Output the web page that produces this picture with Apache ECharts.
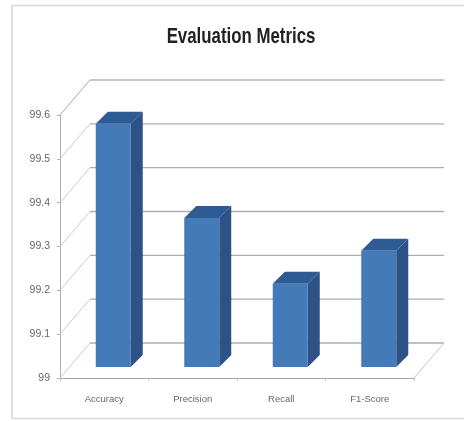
<!DOCTYPE html>
<html>
<head>
<meta charset="utf-8">
<style>html,body{margin:0;padding:0;background:#fff}#chart{width:464px;height:421px}</style>
<script src="https://cdn.jsdelivr.net/npm/echarts@6/dist/echarts.min.js"></script>
</head>
<body>
<div id="chart"></div>
<script>
const categories = ['Accuracy', 'Precision', 'Recall', 'F1-Score'];
const metricValues = [99.555, 99.34, 99.19, 99.265];
const wallTicks = [99, 99.1, 99.2, 99.3, 99.4, 99.5, 99.6];
const chartTitle = 'Evaluation Metrics';

// Depth of the pseudo-3D walls and of each column, in pixels
const WALL_DX = 30, WALL_DY = -35;
const BAR_SHIFT_X = 9, BAR_SHIFT_Y = -11, BAR_HALF = 17.5, BAR_DX = 12, BAR_DY = -12;

function renderWall(params, api) {
  const v = api.value(1);
  const y = api.coord([0, v])[1];
  const cs = params.coordSys;
  const bx = cs.x + WALL_DX, by = y + WALL_DY;
  const isTop = v === wallTicks[wallTicks.length - 1];
  const isFloor = v === wallTicks[0];
  const children = [
    { type: 'line', shape: { x1: cs.x, y1: y, x2: bx, y2: by },
      style: { stroke: isTop ? '#a8a8a8' : '#cfc8c2', lineWidth: 1 } },
    { type: 'line', shape: { x1: bx, y1: by, x2: bx + cs.width, y2: by },
      style: { stroke: isTop ? '#8e8e8e' : '#adadad', lineWidth: isTop ? 1 : 1.4 } }
  ];
  if (isFloor) {
    children.push({ type: 'line',
      shape: { x1: cs.x + cs.width, y1: y, x2: bx + cs.width, y2: by },
      style: { stroke: '#c4c4c4', lineWidth: 1 } });
  }
  return { type: 'group', children };
}

function renderColumn(params, api) {
  const idx = api.value(0);
  const base = api.coord([idx, wallTicks[0]]);
  const top = api.coord([idx, api.value(1)]);
  const x0 = base[0] + BAR_SHIFT_X - BAR_HALF;
  const x1 = base[0] + BAR_SHIFT_X + BAR_HALF;
  const yb = base[1] + BAR_SHIFT_Y;
  const yt = top[1] + BAR_SHIFT_Y;
  return {
    type: 'group',
    children: [
      { type: 'polygon',
        shape: { points: [[x1, yt], [x1 + BAR_DX, yt + BAR_DY], [x1 + BAR_DX, yb + BAR_DY], [x1, yb]] },
        style: { fill: '#2c5286' } },
      { type: 'polygon',
        shape: { points: [[x0, yt], [x0 + BAR_DX, yt + BAR_DY], [x1 + BAR_DX, yt + BAR_DY], [x1, yt]] },
        style: { fill: '#2f5b95' } },
      { type: 'rect',
        shape: { x: x0, y: yt, width: x1 - x0, height: yb - yt },
        style: { fill: '#457ab9' } }
    ]
  };
}

const chart = echarts.init(document.getElementById('chart'), null, { renderer: 'canvas' });
const labelFont = '"Liberation Sans", sans-serif';
chart.setOption({
  animation: false,
  backgroundColor: '#ffffff',
  graphic: [
    {
      type: 'rect', silent: true, z: -1,
      shape: { x: 12, y: 5.5, width: 480, height: 413 },
      style: { fill: 'none', stroke: '#d8d8d8', lineWidth: 1.5 }
    },
    {
      type: 'text', silent: true,
      x: 241, y: 37, scaleX: 0.765,
      style: {
        text: chartTitle, align: 'center', verticalAlign: 'middle',
        font: 'bold 22px "Liberation Sans", sans-serif', fill: '#222222'
      }
    }
  ],
  grid: { left: 60, width: 354, top: 115, height: 263 },
  xAxis: {
    type: 'category',
    data: categories,
    axisLine: { lineStyle: { color: '#a6a6a6' } },
    axisTick: { show: true, length: 3, lineStyle: { color: '#c8c8c8' } },
    axisLabel: { margin: 16, fontFamily: labelFont, fontSize: 9.5, color: '#666666' }
  },
  yAxis: {
    type: 'value',
    min: 99, max: 99.6, interval: 0.1,
    axisLine: { show: true, lineStyle: { color: '#b0b0b0' } },
    axisTick: { show: true, length: 3, lineStyle: { color: '#b0b0b0' } },
    axisLabel: {
      margin: 10, fontFamily: labelFont, fontSize: 10.5, color: '#666666',
      formatter: v => String(+v.toFixed(1))
    },
    splitLine: { show: false }
  },
  series: [
    {
      type: 'custom', renderItem: renderWall, z: 1, silent: true, clip: false,
      encode: { x: 0, y: 1 },
      data: wallTicks.map(v => [0, v])
    },
    {
      type: 'custom', renderItem: renderColumn, z: 2, clip: false,
      encode: { x: 0, y: 1 },
      data: metricValues.map((v, i) => [i, v])
    }
  ]
});
</script>
</body>
</html>
